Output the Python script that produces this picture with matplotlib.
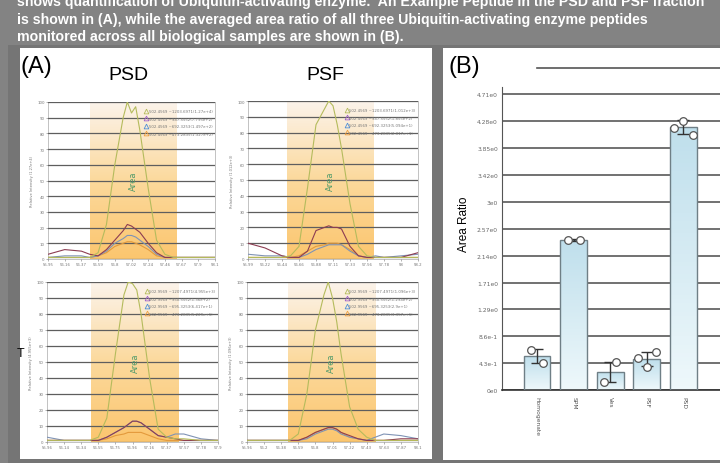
import numpy as np
import matplotlib
matplotlib.use('Agg')
import matplotlib.pyplot as plt
from matplotlib.patches import Rectangle
from matplotlib.lines import Line2D
from matplotlib.colors import LinearSegmentedColormap

W, H = 720, 464

# ---------------- data ----------------
caption_lines = [
    "shows quantification of Ubiquitin-activating enzyme.  An Example Peptide in the PSD and PSF fraction",
    "is shown in (A), while the averaged area ratio of all three Ubiquitin-activating enzyme peptides",
    "monitored across all biological samples are shown in (B).",
]

# chromatogram time grid (in tick-index units) and traces (% relative intensity)
rt_index = [0, 1, 2, 2.5, 3, 3.5, 4, 4.5, 4.75, 5, 5.25, 5.5, 6, 6.5, 7, 7.5, 8, 9, 10]

psd_top_green = [1, 1, 1, 1, 4, 22, 60, 90, 100, 93, 97, 82, 45, 12, 3, 1, 1, 1, 1]
psd_top_purple = [3, 6, 5, 3, 2, 6, 12, 18, 22, 21, 19, 17, 10, 4, 1, 1, 1, 1, 1]
psd_top_blue = [1, 2, 2, 1, 2, 5, 10, 13, 15, 15, 14, 12, 8, 3, 1, 1, 1, 1, 1]
psd_top_orange = [1, 1, 1, 1, 2, 4, 8, 10, 11, 11, 10, 9, 6, 2, 1, 1, 1, 1, 1]

psf_top_green = [1, 1, 1, 2, 8, 45, 85, 95, 100, 97, 85, 70, 35, 8, 2, 1, 1, 1, 1]
psf_top_purple = [10, 7, 2, 1, 1, 5, 18, 20, 21, 20, 20, 19, 8, 2, 1, 1, 1, 1, 4]
psf_top_blue = [3, 2, 2, 1, 1, 3, 6, 8, 9, 9, 9, 9, 5, 2, 1, 2, 1, 2, 3]
psf_top_orange = [1, 1, 1, 1, 2, 5, 8, 9, 10, 10, 10, 9, 6, 2, 1, 1, 1, 1, 1]

psd_bot_green = [1, 1, 1, 1, 3, 15, 55, 92, 100, 99, 95, 80, 40, 8, 3, 2, 2, 1, 1]
psd_bot_purple = [1, 1, 1, 1, 1, 3, 6, 9, 11, 13, 13, 12, 8, 4, 3, 2, 1, 1, 1]
psd_bot_blue = [3, 1, 1, 1, 1, 3, 6, 9, 11, 13, 13, 12, 8, 4, 3, 5, 5, 2, 1]
psd_bot_orange = [1, 1, 1, 1, 1, 2, 4, 5, 6, 6, 6, 6, 4, 2, 1, 1, 1, 1, 1]

psf_bot_green = [1, 1, 1, 1, 5, 30, 70, 92, 100, 90, 75, 55, 22, 8, 3, 1, 1, 1, 1]
psf_bot_purple = [1, 1, 1, 1, 1, 3, 6, 8, 9, 9, 8, 6, 4, 2, 1, 1, 1, 2, 2]
psf_bot_blue = [1, 1, 1, 1, 1, 2, 5, 7, 8, 8, 7, 5, 3, 2, 1, 3, 5, 4, 2]
psf_bot_orange = [1, 1, 1, 1, 1, 3, 6, 8, 9, 9, 8, 6, 3, 2, 1, 1, 1, 1, 1]

# integration ("Area") windows, tick-index units
psd_top_area = [2.5, 7.7]
psf_top_area = [2.3, 7.4]
psd_bot_area = [2.6, 7.7]
psf_bot_area = [2.4, 7.5]

psd_top_xlabels = ["55.95", "56.16", "56.37", "56.59", "56.8", "57.02", "57.24", "57.46", "57.67", "57.9", "58.1"]
psf_top_xlabels = ["55.99", "56.22", "56.44", "56.66", "56.88", "57.11", "57.33", "57.56", "57.78", "58", "58.2"]
psd_bot_xlabels = ["55.96", "56.14", "56.34", "56.55", "56.75", "56.96", "57.16", "57.37", "57.57", "57.78", "57.9"]
psf_bot_xlabels = ["55.96", "56.2", "56.38", "56.59", "56.8", "57.01", "57.22", "57.43", "57.63", "57.87", "58.1"]

psd_top_legend = ["502.4569 ~1203.6971(1.27e+4)", "502.4569 ~947.5552(7.795e+2)",
                  "502.4569 ~692.3253(1.497e+2)", "502.4569 ~473.2835(1.327e+2)"]
psf_top_legend = ["502.4569 ~1203.6971(1.012e+3)", "502.4569 ~947.5552(1.855e+2)",
                  "502.4569 ~692.3253(5.094e+1)", "502.4569 ~473.2835(2.017e+1)"]
psd_bot_legend = ["502.9569 ~1207.4971(4.955e+3)", "502.9569 ~950.5552(1.36e+2)",
                  "502.9569 ~695.3253(6.417e+1)", "502.9569 ~473.2835(5.229e+1)"]
psf_bot_legend = ["502.9569 ~1207.4971(1.096e+3)", "502.9569 ~950.5552(1.294e+2)",
                  "502.9569 ~695.3253(2.9e+1)", "502.9569 ~473.2835(3.357e+1)"]

psd_top_ylabel = "Relative Intensity (1.27e+4)"
psf_top_ylabel = "Relative Intensity (1.012e+3)"
psd_bot_ylabel = "Relative Intensity (4.955e+3)"
psf_bot_ylabel = "Relative Intensity (1.096e+3)"

intensity_ticks = [0, 10, 20, 30, 40, 50, 60, 70, 80, 90, 100]

# bar chart (B)
categories = ["Homogenate", "SPM", "Ves", "PSF", "PSD"]
mean_ratio = [0.54, 2.39, 0.29, 0.49, 4.19]
sd_ratio = [0.11, 0.01, 0.16, 0.11, 0.11]
replicates = [[0.64, 0.43], [2.39, 2.39], [0.13, 0.45], [0.51, 0.37, 0.60], [4.17, 4.28, 4.06]]
ratio_ticks = [0, 0.43, 0.86, 1.29, 1.71, 2.14, 2.57, 3.0, 3.42, 3.85, 4.28, 4.71]
ratio_ticklabels = ["0e0", "4.3e-1", "8.6e-1", "1.29e0", "1.71e0", "2.14e0", "2.57e0",
                    "3e0", "3.42e0", "3.85e0", "4.28e0", "4.71e0"]

# ---------------- figure ----------------
fig = plt.figure(figsize=(W / 100, H / 100), dpi=100, facecolor="#838383")


def fx(x):
    return x / W


def fy(y):
    return 1 - y / H


def rect_px(l, t, r, b, color, z=0):
    fig.add_artist(Rectangle((fx(l), fy(b)), (r - l) / W, (b - t) / H,
                             transform=fig.transFigure, facecolor=color,
                             edgecolor="none", zorder=z))


def axes_px(l, t, r, b):
    return fig.add_axes([fx(l), fy(b), (r - l) / W, (b - t) / H])


rect_px(8, 46, 720, 464, "#757575", z=-3)
rect_px(20, 49, 432, 460, "white", z=-2)
rect_px(443, 49, 720, 461, "white", z=-2)

caption_baselines = [6, 24, 40.5]
for line, yb in zip(caption_lines, caption_baselines):
    fig.text(fx(17), fy(yb), line, color="white", fontsize=10.2,
             fontweight="bold", family="Liberation Sans", va="baseline", ha="left")

fig.text(fx(21), fy(67), "(A)", fontsize=17, family="Liberation Sans", va="center", ha="left")
fig.text(fx(448), fy(67), "(B)", fontsize=17, family="Liberation Sans", va="center", ha="left")
fig.text(fx(128), fy(75), "PSD", fontsize=14, family="Liberation Sans", va="center", ha="center")
fig.text(fx(325), fy(75), "PSF", fontsize=14, family="Liberation Sans", va="center", ha="center")
fig.text(fx(21), fy(354), "T", fontsize=9, family="Liberation Sans", va="center", ha="center")

shade_cmap = LinearSegmentedColormap.from_list("shade", ["#fbf3ea", "#fcd99c", "#fbc66f"])
trace_colors = ["#b4bb5c", "#8c3c52", "#7f93b5", "#e39a3c"]
legend_colors = ["#b4bb5c", "#a060c8", "#4f8fd8", "#f0a040"]

panels = [
    ((48, 103, 215, 260), [psd_top_green, psd_top_purple, psd_top_blue, psd_top_orange],
     psd_top_area, psd_top_xlabels, psd_top_legend, psd_top_ylabel),
    ((248, 102, 418, 260), [psf_top_green, psf_top_purple, psf_top_blue, psf_top_orange],
     psf_top_area, psf_top_xlabels, psf_top_legend, psf_top_ylabel),
    ((47, 283, 218, 443), [psd_bot_green, psd_bot_purple, psd_bot_blue, psd_bot_orange],
     psd_bot_area, psd_bot_xlabels, psd_bot_legend, psd_bot_ylabel),
    ((247, 283, 418, 443), [psf_bot_green, psf_bot_purple, psf_bot_blue, psf_bot_orange],
     psf_bot_area, psf_bot_xlabels, psf_bot_legend, psf_bot_ylabel),
]

grad = np.linspace(0, 1, 64).reshape(-1, 1)
for box, traces, area, xlabels, legend_labels, ylabel in panels:
    ax = axes_px(*box)
    ax.set_facecolor("white")
    ax.imshow(grad, extent=[area[0], area[1], 0, 100], origin="upper",
              cmap=shade_cmap, aspect="auto", zorder=1)
    for vals, c in zip(traces[::-1], trace_colors[::-1]):
        ax.plot(rt_index, vals, color=c, lw=0.8, zorder=3)
    ax.text((area[0] + area[1]) / 2, 50, "Area", rotation=90, color="#4f9a6a",
            fontsize=6, ha="center", va="center", zorder=4)
    handles = [Line2D([], [], marker="^", ls="none", markersize=3.4,
                      markerfacecolor="none", markeredgecolor=c, markeredgewidth=0.6)
               for c in legend_colors]
    ax.legend(handles, legend_labels, loc="upper right", bbox_to_anchor=(1.0, 0.97),
              frameon=False, fontsize=2.8, handlelength=0.8, handletextpad=0.3,
              labelspacing=0.9, borderaxespad=0.2, labelcolor="#777777")
    ax.set_xlim(0, 10)
    ax.set_ylim(0, 100)
    ax.set_xticks(range(11), xlabels)
    ax.set_yticks(intensity_ticks, [str(v) for v in intensity_ticks])
    ax.tick_params(axis="both", labelsize=2.8, colors="#777777", length=1.2, width=0.4, pad=1.2)
    ax.yaxis.grid(True, color="#5e5e5e", lw=0.9, zorder=2)
    ax.set_axisbelow(False)
    for sp in ax.spines.values():
        sp.set_color("#b8b8b8")
        sp.set_linewidth(0.6)
    ax.set_ylabel(ylabel, fontsize=2.6, color="#777777", labelpad=2)

# ---------------- panel B ----------------
axb = axes_px(502, 88, 720, 391)
axb.set_facecolor("white")
x = np.arange(len(categories))
bars = axb.bar(x, mean_ratio, width=0.73, color="none", edgecolor="#6f7f86", lw=1.0, zorder=3)
bar_cmap = LinearSegmentedColormap.from_list("bar", ["#bfdfec", "#eef8fb"])
for b in bars:
    im = axb.imshow(grad, extent=[b.get_x(), b.get_x() + b.get_width(), 0, b.get_height()],
                    origin="upper", cmap=bar_cmap, aspect="auto", zorder=2)
    im.set_clip_path(b)
axb.errorbar(x, mean_ratio, yerr=sd_ratio, fmt="none", ecolor="#333333",
             elinewidth=1.0, capsize=4.3, capthick=1.0, zorder=4)
for i, reps in enumerate(replicates):
    spread = 0.16 if len(reps) == 2 else 0.25
    offs = np.linspace(-spread, spread, len(reps))
    axb.plot(x[i] + offs, reps, "o", ms=5.5, mfc="white", mec="#555555", mew=0.9,
             ls="none", zorder=5)
axb.set_xlim(-0.96, 5.0)
axb.set_ylim(0, 4.825)
axb.set_yticks(ratio_ticks, ratio_ticklabels)
axb.set_xticks(x, categories, rotation=-90)
axb.tick_params(axis="y", labelsize=4.3, colors="#666666", length=0, pad=3)
axb.tick_params(axis="x", labelsize=4.3, colors="#555555", length=0, pad=4)
axb.yaxis.grid(True, color="#4a4a4a", lw=1.1, zorder=1)
axb.set_axisbelow(True)
for s in ["top", "right"]:
    axb.spines[s].set_visible(False)
axb.spines["left"].set_color("#555555")
axb.spines["bottom"].set_color("#333333")
axb.spines["bottom"].set_linewidth(1.2)
fig.text(fx(464), fy(224), "Area Ratio", rotation=90, fontsize=8.5,
         family="Liberation Sans", ha="center", va="center")
fig.add_artist(Line2D([fx(537), fx(720)], [fy(69), fy(69)], transform=fig.transFigure,
                      color="#555555", lw=1.2))

fig.savefig("out.png", dpi=100, facecolor=fig.get_facecolor())
